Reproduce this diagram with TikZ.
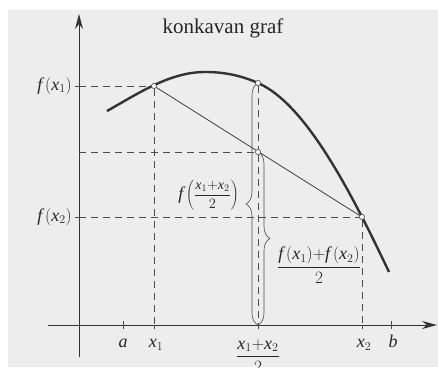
\documentclass[tikz,border=0pt]{standalone}
\usepackage{fontspec}
\setmainfont{Liberation Serif}
\usetikzlibrary{arrows.meta,decorations.pathreplacing}
\begin{document}
\begin{tikzpicture}[x=1pt,y=-1pt,
  axis/.style={line width=1pt, draw=black!80, -{Stealth[length=15pt,width=8pt]}},
  guide/.style={dash pattern=on 7pt off 5pt, line width=0.6pt, draw=black!70},
  curvestyle/.style={line width=2.4pt, draw=black!80},
  chord/.style={line width=0.8pt, draw=black!75},
  dot/.style={circle, draw=black!70, fill=white, inner sep=0pt, minimum size=5pt, line width=0.5pt},
  lbl/.style={font=\fontsize{18}{21}\selectfont, inner sep=0pt, text=black!85},
  bracestyle/.style={decorate, decoration={brace, amplitude=12pt}, line width=0.6pt, draw=black!70},
  tick/.style={line width=0.6pt, draw=black!70}]
\useasboundingbox (0,0) rectangle (438,367);
\fill[white] (0,0) rectangle (438,367);
\fill[black!7] (8,10) rectangle (438,367);
% axes
\coordinate (yb) at (79,357);
\coordinate (yt) at (79,14);
\coordinate (xl) at (48,325);
\coordinate (xr) at (437,325);
\draw[axis] (yb) -- (yt);
\draw[axis] (xl) -- (xr);
% points
\node[dot] (P1) at (154,86) {};
\node[dot] (M) at (258,83) {};
\node[dot] (C) at (258,152) {};
\node[dot] (P2) at (362,217) {};
\coordinate (F1) at (79,86);
\coordinate (FC) at (79,152);
\coordinate (F2) at (79,217);
\coordinate (X1) at (154,325);
\coordinate (XM) at (258,325);
\coordinate (X2) at (362,325);
\coordinate (XA) at (123,325);
\coordinate (XB) at (391,325);
\coordinate (CA) at (107,111);
\coordinate (CB) at (205,72);
\coordinate (CE) at (389,272);
% ticks
\draw[tick] (F1) -- ++(-4,0);
\draw[tick] (F2) -- ++(-4,0);
\draw[tick] (XA) -- ++(0,4) (XA) -- ++(0,-4);
\draw[tick] (XB) -- ++(0,4) (XB) -- ++(0,-4);
\draw[tick] (X1) -- ++(0,4);
\draw[tick] (XM) -- ++(0,4);
\draw[tick] (X2) -- ++(0,4);
% guides
\draw[guide] (F1) -- (P1);
\draw[guide] (P1) -- (X1);
\draw[guide] (FC) -- (C);
\draw[guide] (F2) -- (P2);
\draw[guide] (P2) -- (X2);
\draw[guide] (M) -- (C);
\draw[guide] (C) -- (XM);
% braces
\draw[bracestyle] (XM) -- (M.center);
\draw[bracestyle] (C.center) -- (XM);
% curve and chord
\draw[curvestyle] (CA) .. controls (139,93) and (170,72) .. (CB)
  .. controls (223,72) and (240,75) .. (M.center)
  .. controls (293,98.5) and (327,149) .. (P2.center)
  .. controls (371,234.5) and (380,253) .. (CE);
\draw[chord] (P1) -- (P2);
\node[dot] at (P1) {};
\node[dot] at (M) {};
\node[dot] at (C) {};
\node[dot] at (P2) {};
% labels
\node[font=\fontsize{21}{24}\selectfont, text=black!85] (title) at (223,28) {konkavan graf};
\node[lbl, anchor=east] (lf1) at (72,86) {$\mathit{f}\,(\mathit{x}_1)$};
\node[lbl, anchor=east] (lf2) at (72,217) {$\mathit{f}\,(\mathit{x}_2)$};
\node[lbl, anchor=east] (lfm) at (239,195) {$\mathit{f}\left(\vcenter{\hbox{\fontsize{14}{16}\selectfont$\displaystyle\frac{\mathit{x}_1{+}\mathit{x}_2}{2}$}}\right)$};
\node[lbl] (lavg) at (319,265) {$\displaystyle\frac{\mathit{f}\,(\mathit{x}_1){+}\mathit{f}\,(\mathit{x}_2)}{2}$};
\node[lbl] (la) at (123,343) {$\mathit{a}$};
\node[lbl] (lx1) at (156,345) {$\mathit{x}_1$};
\node[lbl] (lxm) at (258,356) {$\displaystyle\frac{\mathit{x}_1{+}\mathit{x}_2}{2}$};
\node[lbl] (lx2) at (364,345) {$\mathit{x}_2$};
\node[lbl] (lb) at (393,341) {$\mathit{b}$};
\end{tikzpicture}
\end{document}
